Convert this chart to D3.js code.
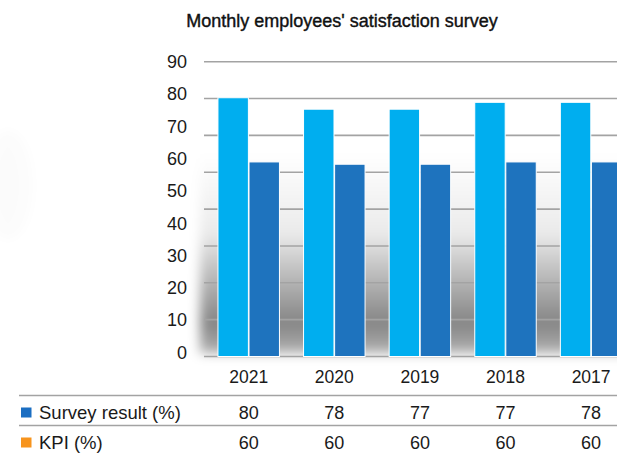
<!DOCTYPE html>
<html>
<head>
<meta charset="utf-8">
<script src="https://cdn.jsdelivr.net/npm/d3@7"></script>
<style>
  body { margin: 0; background: #fff; }
  svg { display: block; font-family: "Liberation Sans", Arial, sans-serif; }
</style>
</head>
<body>
<svg id="chart"></svg>
<script>
const years = ["2021", "2020", "2019", "2018", "2017"];
// bar heights as drawn in the picture
const surveyBars = [79, 75.5, 75.5, 77.6, 77.6];
const kpiBars = [59.4, 58.7, 58.7, 59.4, 59.4];
// values printed in the table under the chart
const surveyTable = [80, 78, 77, 77, 78];
const kpiTable = [60, 60, 60, 60, 60];
const yTicks = [0, 10, 20, 30, 40, 50, 60, 70, 80, 90];
const seriesNames = ["Survey result (%)", "KPI (%)"];

const width = 617;
const height = 453;

const svg = d3.select("#chart").attr("width", width).attr("height", height);

const xScale = d3.scaleBand()
  .domain(years)
  .range([205.9, 633.9])
  .paddingInner(0.267)
  .paddingOuter(0.1335);

const xInner = d3.scaleBand()
  .domain(["survey", "kpi"])
  .range([0, xScale.bandwidth()])
  .padding(0.02);

const yScale = d3.scaleLinear().domain([0, 90]).range([356.5, 61.7]);
// tick labels sit on a slightly shorter run than the grid lines
const yLabelScale = d3.scaleLinear().domain([0, 90]).range([352.5, 61.7]);

const defs = svg.append("defs");
const grad = defs.append("linearGradient")
  .attr("id", "shade").attr("x1", 0).attr("y1", 0).attr("x2", 0).attr("y2", 1);
grad.append("stop").attr("offset", "0%").attr("stop-color", "#000").attr("stop-opacity", 0);
grad.append("stop").attr("offset", "40%").attr("stop-color", "#000").attr("stop-opacity", 0.08);
grad.append("stop").attr("offset", "85%").attr("stop-color", "#000").attr("stop-opacity", 0.48);
grad.append("stop").attr("offset", "100%").attr("stop-color", "#000").attr("stop-opacity", 0.3);
defs.append("filter").attr("id", "blur")
  .attr("x", "-20%").attr("y", "-20%").attr("width", "140%").attr("height", "140%")
  .append("feGaussianBlur").attr("stdDeviation", 6);

// soft shadow behind the bars
svg.append("rect")
  .attr("x", 200)
  .attr("y", yScale(62))
  .attr("width", 450)
  .attr("height", yScale(1) - yScale(62))
  .attr("fill", "url(#shade)")
  .attr("filter", "url(#blur)");

// faint smudge on the left edge
svg.append("ellipse")
  .attr("cx", 8).attr("cy", 185).attr("rx", 25).attr("ry", 55)
  .attr("fill", "#000").attr("opacity", 0.012)
  .attr("filter", "url(#blur)");

// grid lines (8 intervals)
const gridVals = d3.range(0, 90.01, 11.25);
svg.append("g")
  .selectAll("line")
  .data(gridVals)
  .enter()
  .append("line")
  .attr("x1", 204)
  .attr("x2", width)
  .attr("y1", (d) => yScale(d))
  .attr("y2", (d) => yScale(d))
  .attr("stroke", "#a3a3a3")
  .attr("stroke-width", 1.6);

// y labels
const yAxis = d3.axisLeft(yLabelScale).tickValues(yTicks).tickSize(0).tickPadding(0);
const yG = svg.append("g")
  .attr("transform", "translate(187,0)")
  .call(yAxis);
yG.select(".domain").remove();
yG.selectAll("text")
  .attr("font-family", "Liberation Sans, Arial, sans-serif")
  .attr("font-size", 18)
  .attr("fill", "#1a1a1a");

const rows = years.map((y, i) => ({ year: y, survey: surveyBars[i], kpi: kpiBars[i] }));

const groups = svg.append("g")
  .selectAll("g")
  .data(rows)
  .enter()
  .append("g")
  .attr("transform", (d) => `translate(${xScale(d.year)},0)`);

groups.append("rect")
  .attr("x", xInner("survey"))
  .attr("y", (d) => yScale(d.survey))
  .attr("width", xInner.bandwidth())
  .attr("height", (d) => yScale(0) - yScale(d.survey))
  .attr("fill", "#00aeef")
  .attr("stroke", "#fff")
  .attr("stroke-width", 1);

groups.append("rect")
  .attr("x", xInner("kpi"))
  .attr("y", (d) => yScale(d.kpi))
  .attr("width", xInner.bandwidth())
  .attr("height", (d) => yScale(0) - yScale(d.kpi))
  .attr("fill", "#1e73be")
  .attr("stroke", "#fff")
  .attr("stroke-width", 1);

// title
svg.append("text")
  .attr("x", 342)
  .attr("y", 26.5)
  .attr("text-anchor", "middle")
  .attr("font-size", 18)
  .attr("fill", "#111")
  .attr("stroke", "#111")
  .attr("stroke-width", 0.4)
  .text("Monthly employees' satisfaction survey");

// data table
const cx = (d) => xScale(d) + xScale.bandwidth() / 2;

svg.append("g")
  .selectAll("text")
  .data(years)
  .enter()
  .append("text")
  .attr("x", cx)
  .attr("y", 382.5)
  .attr("text-anchor", "middle")
  .attr("font-size", 17.5)
  .attr("fill", "#1a1a1a")
  .text((d) => d);

svg.append("g")
  .selectAll("line")
  .data([395.5, 425.5])
  .enter()
  .append("line")
  .attr("x1", 19)
  .attr("x2", width)
  .attr("y1", (d) => d)
  .attr("y2", (d) => d)
  .attr("stroke", "#a3a3a3")
  .attr("stroke-width", 1.6);

const tableRows = [
  { name: seriesNames[0], color: "#1b6ec2", values: surveyTable, y: 419 },
  { name: seriesNames[1], color: "#f7941d", values: kpiTable, y: 449 }
];

tableRows.forEach((r) => {
  svg.append("rect")
    .attr("x", 21)
    .attr("y", r.y - 11.5)
    .attr("width", 10.5)
    .attr("height", 10)
    .attr("fill", r.color);
  svg.append("text")
    .attr("x", 39)
    .attr("y", r.y)
    .attr("font-size", 18.5)
    .attr("fill", "#1a1a1a")
    .text(r.name);
  svg.append("g")
    .selectAll("text")
    .data(r.values)
    .enter()
    .append("text")
    .attr("x", (d, i) => cx(years[i]))
    .attr("y", r.y)
    .attr("text-anchor", "middle")
    .attr("font-size", 18)
    .attr("fill", "#1a1a1a")
    .text((d) => d);
});
</script>
</body>
</html>
